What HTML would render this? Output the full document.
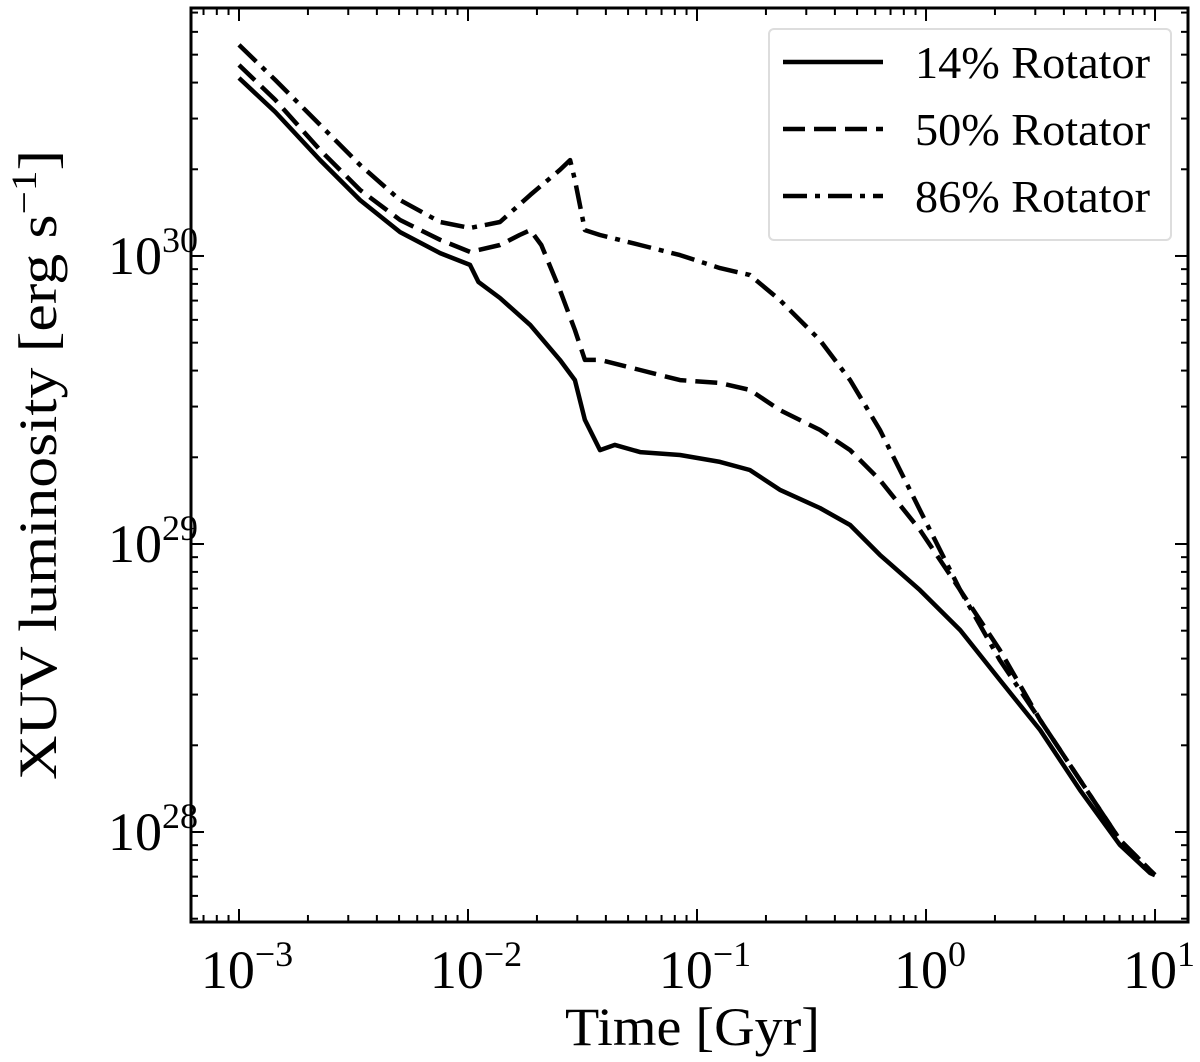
<!DOCTYPE html>
<html><head><meta charset="utf-8">
<style>
html,body{margin:0;padding:0;background:#fff;}
svg text{font-family:"Liberation Serif",serif;fill:#000;}
</style></head>
<body>
<svg id="chart" width="1200" height="1057" viewBox="0 0 1200 1057" xmlns="http://www.w3.org/2000/svg">
<g id="plot"></g>
</svg>
<script>
const seriesNames = ["14% Rotator", "50% Rotator", "86% Rotator"];
const timeSolid = [0.001,0.00144,0.00226,0.00338,0.00505,0.00755,0.0102,0.0111,0.0138,0.0187,0.0252,0.0293,0.0324,0.0377,0.0438,0.0564,0.0843,0.126,0.170,0.230,0.344,0.466,0.629,0.94,1.41,2.10,3.15,4.70,7.03,9.5,10];
const logLumSolid = [30.618,30.5,30.333,30.194,30.083,30.01,29.969,29.91,29.854,29.76,29.639,29.569,29.431,29.326,29.344,29.319,29.309,29.285,29.257,29.188,29.125,29.066,28.962,28.84,28.701,28.528,28.354,28.146,27.955,27.858,27.85];
const timeDashed = [0.001,0.00144,0.00226,0.00338,0.00505,0.00755,0.0102,0.0138,0.0168,0.0187,0.0209,0.0252,0.0293,0.0324,0.0377,0.0564,0.0843,0.126,0.170,0.230,0.344,0.466,0.629,0.94,1.41,2.10,3.15,4.70,7.03,9.5,10];
const logLumDashed = [30.663,30.542,30.368,30.229,30.125,30.056,30.014,30.038,30.073,30.090,30.038,29.882,29.743,29.639,29.639,29.604,29.569,29.559,29.535,29.465,29.396,29.326,29.222,29.049,28.840,28.632,28.389,28.181,27.972,27.868,27.851];
const timeDashDot = [0.001,0.00144,0.00226,0.00338,0.00505,0.00755,0.0102,0.0138,0.0187,0.0252,0.0279,0.0293,0.0324,0.0377,0.0564,0.0843,0.126,0.170,0.230,0.344,0.466,0.629,0.94,1.41,2.10,3.15,4.70,7.03,9.5,10];
const logLumDashDot = [30.733,30.611,30.455,30.316,30.194,30.118,30.097,30.118,30.212,30.299,30.333,30.264,30.090,30.073,30.038,30.003,29.958,29.934,29.847,29.708,29.569,29.396,29.118,28.840,28.597,28.389,28.181,27.972,27.868,27.858];
const xTickExps = [-3,-2,-1,0,1];
const yTickExps = [28,29,30];

const NS = "http://www.w3.org/2000/svg";
const L = 191, R = 1188, T = 8, B = 922;
const xMin = -3.2096, xMax = 1.144, yMin = 27.6875, yMax = 30.861;
function xs(t){ return L + (Math.log10(t) - xMin) / (xMax - xMin) * (R - L); }
function xe(e){ return L + (e - xMin) / (xMax - xMin) * (R - L); }
function ys(lg){ return B - (lg - yMin) / (yMax - yMin) * (B - T); }
const plot = document.getElementById("plot");
function mk(tag, attrs, parent){ const el = document.createElementNS(NS, tag); for (const k in attrs) el.setAttribute(k, attrs[k]); (parent || plot).appendChild(el); return el; }

for (let d = -4; d <= 1; d++) {
  for (let m = 1; m <= 9; m++) {
    const e = d + Math.log10(m);
    if (e < xMin || e > xMax) continue;
    const x = xe(e), len = m === 1 ? 13 : 7;
    const t1 = mk("line", {x1:x, y1:B, x2:x, y2:B-len, stroke:"#000", "stroke-width":2});
    
    
    const t2 = mk("line", {x1:x, y1:T, x2:x, y2:T+len, stroke:"#000", "stroke-width":2});
    
    
  }
}
for (let d = 27; d <= 30; d++) {
  for (let m = 1; m <= 9; m++) {
    const e = d + Math.log10(m);
    if (e < yMin || e > yMax) continue;
    const y = ys(e), len = m === 1 ? 13 : 7;
    const t1 = mk("line", {x1:L, y1:y, x2:L+len, y2:y, stroke:"#000", "stroke-width":2});
    
    
    const t2 = mk("line", {x1:R, y1:y, x2:R-len, y2:y, stroke:"#000", "stroke-width":2});
    
    
  }
}
xTickExps.forEach(e => {
  const tx = mk("text", {x: xe(e) + (e < 0 ? 8 : 4), y: 988, "font-size": 54, "text-anchor": "middle"});
  
  
  tx.innerHTML = '10<tspan dy="-22" font-size="36">' + (e < 0 ? '\u2212' + (-e) : e) + '</tspan>';
});
yTickExps.forEach(e => {
  const tx = mk("text", {x: 108, y: ys(e) + 18, "font-size": 54});
  
  
  tx.innerHTML = '10<tspan dy="-22" font-size="36">' + e + '</tspan>';
});

const series = [
  {t: timeSolid, v: logLumSolid, dash: "none", name: "line-14-percent-rotator"},
  {t: timeDashed, v: logLumDashed, dash: "22 9", name: "line-50-percent-rotator"},
  {t: timeDashDot, v: logLumDashDot, dash: "24 8 5 8", name: "line-86-percent-rotator"}
];
series.forEach(s => {
  const d = s.t.map((t, i) => (i ? "L" : "M") + xs(t).toFixed(1) + "," + ys(s.v[i]).toFixed(1)).join(" ");
  const p = mk("path", {d: d, fill: "none", stroke: "#000", "stroke-width": 4.5, "stroke-dasharray": s.dash, "stroke-linejoin": "round"});
  
  
});

const fr = mk("rect", {x:L, y:T, width:R-L, height:B-T, fill:"none", stroke:"#000", "stroke-width":3});



const lg = mk("g", {});


const lb = mk("rect", {x:769, y:29, width:402, height:211, rx:5, fill:"#fff", "fill-opacity":0.9, stroke:"#ddd", "stroke-width":2}, lg);


const legY = [62, 129, 196];
series.forEach((s, i) => {
  const ln = mk("line", {x1:783, y1:legY[i], x2:883, y2:legY[i], stroke:"#000", "stroke-width":4.5, "stroke-dasharray": s.dash}, lg);
  
  
  const tx = mk("text", {x:915, y:legY[i] + 16, "font-size": 46, textLength: 235, lengthAdjust: "spacingAndGlyphs"}, lg);
  
  
  tx.textContent = seriesNames[i];
});

const xt = mk("text", {x: 565, y: 1045, "font-size": 54, textLength: 255, lengthAdjust: "spacingAndGlyphs"});


xt.textContent = "Time [Gyr]";
const yt = mk("text", {x: -780, y: 0, "font-size": 54, transform: "translate(56,0) rotate(-90)", textLength: 630, lengthAdjust: "spacingAndGlyphs"});


yt.innerHTML = 'XUV luminosity [erg s<tspan dy="-20" font-size="36">\u22121</tspan><tspan dy="20">]</tspan>';
</script>
</body></html>
